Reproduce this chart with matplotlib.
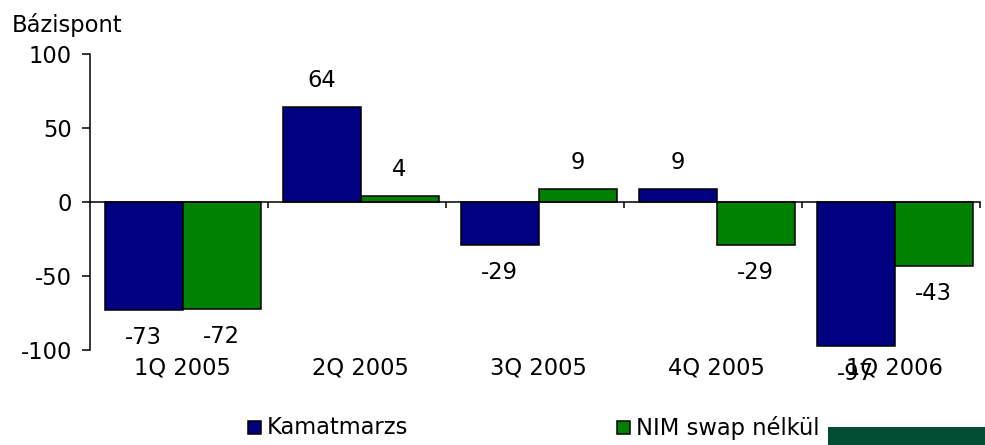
import numpy as np
import matplotlib.pyplot as plt
from matplotlib.patches import Rectangle
from matplotlib.transforms import blended_transform_factory

# data
quarters = ["1Q 2005", "2Q 2005", "3Q 2005", "4Q 2005", "1Q 2006"]
kamatmarzs = [-73, 64, -29, 9, -97]
nim_swap = [-72, 4, 9, -29, -43]
series_names = ["Kamatmarzs", "NIM swap nélkül"]

blue = "#000080"
green = "#008000"

plt.rcParams['font.family'] = ['DejaVu Sans']
plt.rcParams['axes.unicode_minus'] = False
fs = 16.3

fig = plt.figure(figsize=(9.85, 4.45), dpi=100)
ax = fig.add_axes([90/985, 1 - 350/445, 890/985, 296/445])

x = np.arange(len(quarters)) + 0.02
w = 0.438
ax.bar(x - w/2, kamatmarzs, w, color=blue, edgecolor="black", linewidth=1.1)
ax.bar(x + w/2, nim_swap, w, color=green, edgecolor="black", linewidth=1.1)

# value labels
for xs, vals in [(x - w/2, kamatmarzs), (x + w/2, nim_swap)]:
    for xi, v in zip(xs, vals):
        off = 19 if v >= 0 else -20
        ax.annotate(str(v), (xi, v), xytext=(0, off), textcoords="offset points",
                    ha="center", va="center", fontsize=fs)

ax.set_xlim(-0.5, 4.5)
ax.set_ylim(-100, 100)
ax.set_yticks([-100, -50, 0, 50, 100])
ax.tick_params(axis="y", direction="out", length=6, width=1.1, pad=7, labelsize=fs)

ax.spines["top"].set_visible(False)
ax.spines["right"].set_visible(False)
ax.spines["bottom"].set_position(("data", 0))
ax.spines["left"].set_linewidth(1.1)
ax.spines["bottom"].set_linewidth(1.1)

ax.set_xticks(np.arange(0.5, len(quarters), 1.0))
ax.tick_params(axis="x", direction="out", length=4, width=1.1, labelbottom=False)

# category labels below the plot
trans = blended_transform_factory(ax.transData, ax.transData)
for i, q in enumerate(quarters):
    ax.text(i + 0.02, -112, q, ha="center", va="center", fontsize=fs, transform=trans, clip_on=False)

fig.text(12/985, 1 - 25/445, "Bázispont", ha="left", va="center", fontsize=fs)

# legend
for lx, col, name in [(248, blue, series_names[0]), (617, green, series_names[1])]:
    fig.patches.append(Rectangle((lx/985, 1 - 434/445), 13/985, 13/445, facecolor=col,
                                 edgecolor="black", linewidth=1.1, transform=fig.transFigure))
    fig.text((lx + 19)/985, 1 - 428/445, name, ha="left", va="center", fontsize=fs)

fig.patches.append(Rectangle((828/985, 0), 157/985, 18/445, facecolor="#004D33",
                             edgecolor="none", transform=fig.transFigure))

fig.savefig("out.png", dpi=100)
